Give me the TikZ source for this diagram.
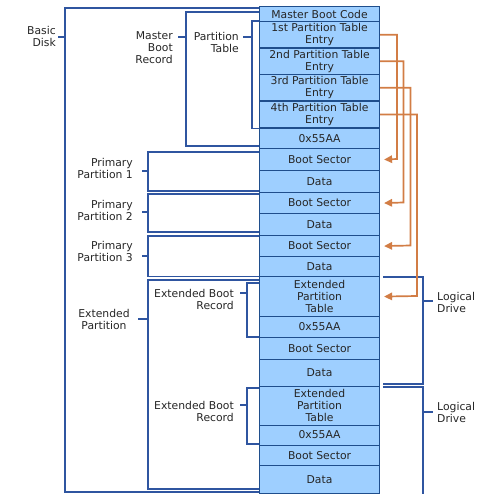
\documentclass[tikz,border=0pt]{standalone}
\usepackage{fontspec}
\setmainfont{DejaVu Sans}
\usetikzlibrary{arrows.meta}
\definecolor{cellfill}{HTML}{9ECFFF}
\definecolor{cellline}{HTML}{1F4E8C}
\definecolor{bracket}{HTML}{2F55A0}
\definecolor{link}{HTML}{D27D45}
\tikzset{
  x=1pt, y=-1pt,
  cell/.style={draw=cellline, line width=1.1pt, fill=cellfill, inner sep=0pt,
    minimum width=120pt, anchor=north west, align=center,
    font=\fontsize{10.8}{12}\selectfont, text=black!85},
  brk/.style={draw=bracket, line width=1.4pt},
  lbl/.style={font=\fontsize{10.8}{12}\selectfont, text=black!85, inner sep=0pt},
  arr/.style={draw=link, line width=1.7pt, -{Triangle[length=8pt,width=7.5pt]}},
}
% one cell of the disk column: name, top, height, text
\newcommand\diskcell[4]{\node[cell, minimum height=#3pt] (#1) at (259,#2) {#4};}
\begin{document}
\begin{tikzpicture}
\useasboundingbox (0,0) rectangle (482,494);

% the disk column, from the first sector down
\diskcell{mbc}{6}{15}{Master Boot Code}
\diskcell{e1}{21}{26.5}{1st Partition Table\\Entry}
\diskcell{e2}{47.5}{26.5}{2nd Partition Table\\Entry}
\diskcell{e3}{74}{26.5}{3rd Partition Table\\Entry}
\diskcell{e4}{100.5}{27}{4th Partition Table\\Entry}
\diskcell{sig}{127.5}{20.5}{0x55AA}
\diskcell{bs1}{148}{22}{Boot Sector}
\diskcell{d1}{170}{22}{Data}
\diskcell{bs2}{192}{21}{Boot Sector}
\diskcell{d2}{213}{22}{Data}
\diskcell{bs3}{235}{21}{Boot Sector}
\diskcell{d3}{256}{20}{Data}
\diskcell{ept1}{276}{40}{Extended\\Partition\\Table}
\diskcell{sig1}{316}{21}{0x55AA}
\diskcell{lbs1}{337}{21.5}{Boot Sector}
\diskcell{ld1}{358.5}{27.5}{Data}
\diskcell{ept2}{386}{38.5}{Extended\\Partition\\Table}
\diskcell{sig2}{424.5}{20}{0x55AA}
\diskcell{lbs2}{444.5}{20.5}{Boot Sector}
\diskcell{ld2}{465}{27.5}{Data}

% left-hand brackets
\coordinate (bdT) at (259,8);  \coordinate (bdB) at (259,492);
\draw[brk] (bdT) -- (65,8) -- (65,492) -- (bdB);
\draw[brk] (58,37) -- (65,37);
\node[lbl, anchor=east, align=right] (basic) at (56,36) {Basic\\Disk};

\coordinate (mbrT) at (259,12); \coordinate (mbrB) at (259,146);
\draw[brk] (mbrT) -- (186,12) -- (186,146) -- (mbrB);
\draw[brk] (178,37) -- (186,37);
\node[lbl, anchor=east, align=right] (mbr) at (173,48) {Master\\Boot\\Record};

\draw[brk] (e1.north west) -- ++(-7,0) |- (e4.south west);
\draw[brk] (243,37) -- (252,37);
\node[lbl, anchor=east, align=right] (pt) at (239,42) {Partition\\Table};

\draw[brk] (259,152) -- (148,152) -- (148,191) -- (259,191);
\draw[brk] (142,171) -- (148,171);
\node[lbl, anchor=east, align=right] (pp1) at (133,168) {Primary\\Partition 1};

\draw[brk] (259,194) -- (148,194) -- (148,232) -- (259,232);
\draw[brk] (142,212) -- (148,212);
\node[lbl, anchor=east, align=right] (pp2) at (133,210) {Primary\\Partition 2};

\draw[brk] (259,236) -- (148,236) -- (148,276.5) -- (259,276.5);
\draw[brk] (142,256) -- (148,256);
\node[lbl, anchor=east, align=right] (pp3) at (133,251) {Primary\\Partition 3};

\draw[brk] (259,280) -- (148,280) -- (148,489) -- (259,489);
\draw[brk] (138,319) -- (148,319);
\node[lbl, align=center] (ext) at (104,319) {Extended\\Partition};

\draw[brk] (259,283) -- (247,283) -- (247,337) -- (259,337);
\draw[brk] (240,293) -- (247,293);
\node[lbl, anchor=east, align=right] (ebr1) at (234,299) {Extended Boot\\Record};

\draw[brk] (259,388) -- (247,388) -- (247,444) -- (259,444);
\draw[brk] (240,405) -- (247,405);
\node[lbl, anchor=east, align=right] (ebr2) at (234,411) {Extended Boot\\Record};

% right-hand brackets for the logical drives
\draw[brk] (383,277) -- (423,277) -- (423,384) -- (383,384);
\draw[brk] (423,301) -- (433,301);
\node[lbl, anchor=west, align=left] (drv1) at (437,302) {Logical\\Drive};

\draw[brk] (383,387) -- (423,387) -- (423,496);
\draw[brk] (423,412) -- (433,412);
\node[lbl, anchor=west, align=left] (drv2) at (437,412) {Logical\\Drive};

% partition table entries pointing at their partitions
\draw[arr] (e1.east) -| (397,159) -- ([xshift=4pt]bs1.east);
\draw[arr] (e2.east) -| (403.5,202.5) -- ([xshift=4pt]bs2.east);
\draw[arr] (e3.east) -| (410.5,245.5) -- ([xshift=4pt]bs3.east);
\draw[arr] (e4.east) -| (417,296) -- ([xshift=4pt]ept1.east);
\end{tikzpicture}
\end{document}
